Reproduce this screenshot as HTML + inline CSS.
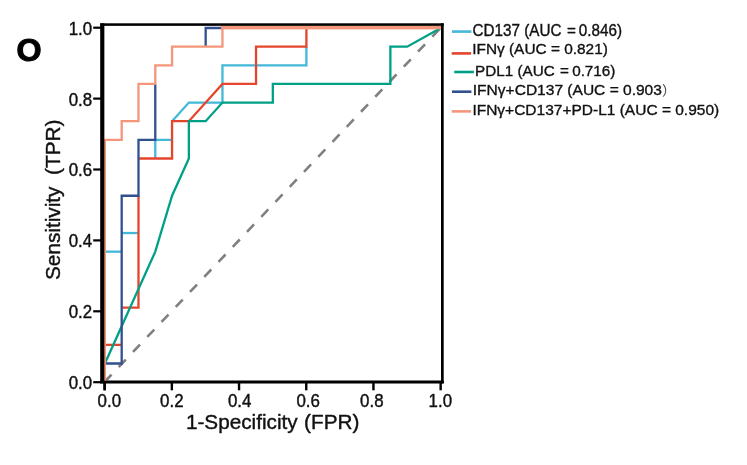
<!DOCTYPE html>
<html lang="en">
<head>
<meta charset="utf-8">
<title>ROC curves</title>
<style>
html,body{margin:0;padding:0;background:#fff;}
body{width:747px;height:465px;overflow:hidden;}
svg{display:block;}
svg text{white-space:pre;}
</style>
</head>
<body>
<svg width="747" height="465" viewBox="0 0 747 465" font-family="'Liberation Sans', sans-serif" role="img" aria-label="ROC curves">
<rect width="747" height="465" fill="#fff"/>
<g fill="#000">
<rect x="100.3" y="380.7" width="343.4" height="2.6"/>
<rect x="93.2" y="381.10" width="8" height="2.2"/>
<rect x="103.45" y="382" width="2.4" height="8.3"/>
<rect x="93.2" y="310.20" width="8" height="2.2"/>
<rect x="170.65" y="382" width="2.4" height="8.3"/>
<rect x="93.2" y="239.30" width="8" height="2.2"/>
<rect x="237.85" y="382" width="2.4" height="8.3"/>
<rect x="93.2" y="168.40" width="8" height="2.2"/>
<rect x="305.05" y="382" width="2.4" height="8.3"/>
<rect x="93.2" y="97.50" width="8" height="2.2"/>
<rect x="372.25" y="382" width="2.4" height="8.3"/>
<rect x="93.2" y="26.60" width="8" height="2.2"/>
<rect x="439.45" y="382" width="2.4" height="8.3"/>
</g>
<line x1="104.50" y1="382.00" x2="441.00" y2="27.50" stroke="#808080" stroke-width="2.6" stroke-dasharray="10.2 10.5"/>
<polyline fill="none" stroke="#43B8D8" stroke-width="2.3" stroke-linejoin="miter" stroke-miterlimit="2" points="104.90,251.67 121.69,251.67"/>
<polyline fill="none" stroke="#43B8D8" stroke-width="2.3" stroke-linejoin="miter" stroke-miterlimit="2" points="121.69,233.03 138.49,233.03"/>
<polyline fill="none" stroke="#43B8D8" stroke-width="2.3" stroke-linejoin="miter" stroke-miterlimit="2" points="155.28,158.48 155.28,139.84 172.07,139.84"/>
<polyline fill="none" stroke="#43B8D8" stroke-width="2.3" stroke-linejoin="miter" stroke-miterlimit="2" points="172.07,121.20 188.86,102.56 222.45,102.56 222.45,65.28 306.41,65.28 306.41,46.64"/>
<polyline fill="none" stroke="#E5452C" stroke-width="2.3" stroke-linejoin="miter" stroke-miterlimit="2" points="104.90,344.87 121.69,344.87"/>
<polyline fill="none" stroke="#E5452C" stroke-width="2.3" stroke-linejoin="miter" stroke-miterlimit="2" points="121.69,307.59 138.49,307.59 138.49,195.76"/>
<polyline fill="none" stroke="#E5452C" stroke-width="2.3" stroke-linejoin="miter" stroke-miterlimit="2" points="138.49,158.48 172.07,158.48 172.07,121.20 188.86,121.20 222.45,83.92 256.03,83.92 256.03,46.64 306.41,46.64 306.41,28.00"/>
<polyline fill="none" stroke="#00A087" stroke-width="2.3" stroke-linejoin="miter" stroke-miterlimit="2" points="104.90,363.51 155.28,251.67 172.07,195.76 188.86,158.48 188.86,121.20 205.66,121.20 222.45,102.56 272.83,102.56 272.83,83.92 390.37,83.92 390.37,46.64 407.17,46.64 440.75,28.00"/>
<polyline fill="none" stroke="#30508F" stroke-width="2.3" stroke-linejoin="miter" stroke-miterlimit="2" points="104.90,363.51 121.69,363.51 121.69,195.76 138.49,195.76 138.49,139.84 155.28,139.84 155.28,83.92"/>
<polyline fill="none" stroke="#30508F" stroke-width="2.3" stroke-linejoin="miter" stroke-miterlimit="2" points="205.66,46.64 205.66,28.00 222.45,28.00"/>
<polyline fill="none" stroke="#F4967A" stroke-width="2.3" stroke-linejoin="miter" stroke-miterlimit="2" points="104.90,382.15 104.90,139.84 121.69,139.84 121.69,121.20 138.49,121.20 138.49,83.92 155.28,83.92 155.28,65.28 172.07,65.28 172.07,46.64 222.45,46.64 222.45,28.00 440.75,28.00"/>
<rect x="221.17" y="25.8" width="219.83" height="3.4" fill="#F4967A"/>
<g fill="#000"><rect x="100.3" y="23.3" width="343.4" height="2.55"/><rect x="441.0" y="23.3" width="2.7" height="360"/><rect x="100.2" y="23.3" width="4.15" height="360"/><rect x="100.3" y="380.7" width="343.4" height="2.6"/><rect x="103.45" y="382" width="2.4" height="8.3"/></g>
<text transform="translate(92.10 389.15) scale(0.9750 1.1000)" font-size="17.3" text-anchor="end" stroke="#111" stroke-width="0.4" stroke-linejoin="round" fill="#111" xml:space="preserve">0.0</text>
<text transform="translate(92.10 318.25) scale(0.9750 1.1000)" font-size="17.3" text-anchor="end" stroke="#111" stroke-width="0.4" stroke-linejoin="round" fill="#111" xml:space="preserve">0.2</text>
<text transform="translate(92.10 247.35) scale(0.9750 1.1000)" font-size="17.3" text-anchor="end" stroke="#111" stroke-width="0.4" stroke-linejoin="round" fill="#111" xml:space="preserve">0.4</text>
<text transform="translate(92.10 176.45) scale(0.9750 1.1000)" font-size="17.3" text-anchor="end" stroke="#111" stroke-width="0.4" stroke-linejoin="round" fill="#111" xml:space="preserve">0.6</text>
<text transform="translate(92.10 105.55) scale(0.9750 1.1000)" font-size="17.3" text-anchor="end" stroke="#111" stroke-width="0.4" stroke-linejoin="round" fill="#111" xml:space="preserve">0.8</text>
<text transform="translate(92.10 34.65) scale(0.9750 1.1000)" font-size="17.3" text-anchor="end" stroke="#111" stroke-width="0.4" stroke-linejoin="round" fill="#111" xml:space="preserve">1.0</text>
<text transform="translate(109.30 406.65) scale(0.9750 1.1000)" font-size="17.3" text-anchor="middle" stroke="#111" stroke-width="0.4" stroke-linejoin="round" fill="#111" xml:space="preserve">0.0</text>
<text transform="translate(171.80 406.65) scale(0.9750 1.1000)" font-size="17.3" text-anchor="middle" stroke="#111" stroke-width="0.4" stroke-linejoin="round" fill="#111" xml:space="preserve">0.2</text>
<text transform="translate(239.70 406.65) scale(0.9750 1.1000)" font-size="17.3" text-anchor="middle" stroke="#111" stroke-width="0.4" stroke-linejoin="round" fill="#111" xml:space="preserve">0.4</text>
<text transform="translate(308.20 406.65) scale(0.9750 1.1000)" font-size="17.3" text-anchor="middle" stroke="#111" stroke-width="0.4" stroke-linejoin="round" fill="#111" xml:space="preserve">0.6</text>
<text transform="translate(371.80 406.65) scale(0.9750 1.1000)" font-size="17.3" text-anchor="middle" stroke="#111" stroke-width="0.4" stroke-linejoin="round" fill="#111" xml:space="preserve">0.8</text>
<text transform="translate(440.30 406.65) scale(0.9750 1.1000)" font-size="17.3" text-anchor="middle" stroke="#111" stroke-width="0.4" stroke-linejoin="round" fill="#111" xml:space="preserve">1.0</text>
<text transform="translate(185.90 429.40) scale(1.0110 1.0000)" font-size="20.5" stroke="#111" stroke-width="0.4" stroke-linejoin="round" fill="#111" xml:space="preserve">1-Specificity<tspan dx="0.7"> (FPR)</tspan></text>
<text transform="translate(60.40 199.80) rotate(-90) scale(1.0150 1.0000)" font-size="20.5" text-anchor="middle" stroke="#111" stroke-width="0.4" stroke-linejoin="round" fill="#111" xml:space="preserve">Sensitivity  (TPR)</text>
<text transform="translate(16.50 60.90) scale(1.0300 1.0150)" font-size="31.3" font-weight="bold" stroke="#000" stroke-width="1.0" stroke-linejoin="round" fill="#000" xml:space="preserve">O</text>
<line x1="452.0" y1="31.6" x2="471.4" y2="31.6" stroke="#43B8D8" stroke-width="2.6"/>
<text transform="translate(472.60 36.05) scale(1.0030 1.0700)" font-size="15.2" stroke="#111" stroke-width="0.35" stroke-linejoin="round" fill="#111" xml:space="preserve">CD137 (AUC <tspan dx="1.3">=</tspan><tspan dx="-1.3"> 0.846)</tspan></text>
<line x1="451.7" y1="53.4" x2="471.1" y2="53.4" stroke="#E5452C" stroke-width="2.6"/>
<text transform="translate(472.20 54.40) scale(1.0140 1.0000)" font-size="15.2" stroke="#111" stroke-width="0.35" stroke-linejoin="round" fill="#111" xml:space="preserve">IFNγ (AUC = 0.821)</text>
<line x1="454.2" y1="72.0" x2="473.9" y2="72.0" stroke="#00A087" stroke-width="2.6"/>
<text transform="translate(475.10 75.75) scale(1.0040 1.0000)" font-size="15.2" stroke="#111" stroke-width="0.35" stroke-linejoin="round" fill="#111" xml:space="preserve">PDL1 (AUC <tspan dx="1.0">=</tspan><tspan dx="-1.0"> 0.716)</tspan></text>
<line x1="452.0" y1="91.7" x2="471.4" y2="91.7" stroke="#30508F" stroke-width="2.6"/>
<text transform="translate(472.80 95.45) scale(1.0234 1.0000)" font-size="15.2" stroke="#111" stroke-width="0.35" stroke-linejoin="round" fill="#111" xml:space="preserve">IFNγ+CD137 (AUC = 0.903<tspan font-family="'Liberation Sans', 'Noto Sans CJK SC', sans-serif" fill="#444" stroke="none" font-size="13.5">）</tspan></text>
<line x1="451.7" y1="111.4" x2="471.1" y2="111.4" stroke="#F4967A" stroke-width="2.6"/>
<text transform="translate(472.40 114.50) scale(1.0204 1.0000)" font-size="15.2" stroke="#111" stroke-width="0.35" stroke-linejoin="round" fill="#111" xml:space="preserve">IFNγ+CD137+PD-L1 (AUC = 0.950)</text>
</svg>
</body>
</html>
